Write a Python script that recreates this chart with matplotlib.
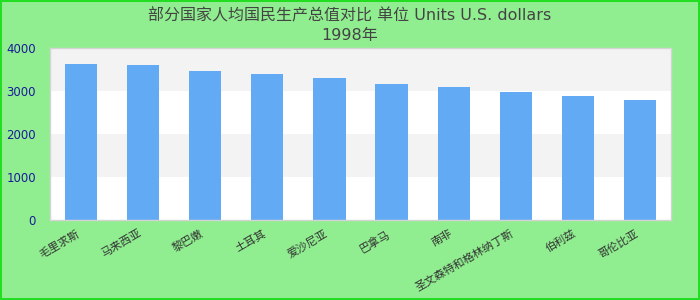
import matplotlib
matplotlib.use('Agg')
import matplotlib.pyplot as plt

plt.rcParams['font.family'] = ['DejaVu Sans', 'Noto Sans CJK SC']

# data
countries = ['毛里求斯', '马来西亚', '黎巴嫩', '土耳其', '爱沙尼亚',
             '巴拿马', '南非', '圣文森特和格林纳丁斯', '伯利兹', '哥伦比亚']
values = [3630, 3600, 3470, 3400, 3300, 3160, 3090, 2980, 2880, 2790]
yticks = [0, 1000, 2000, 3000, 4000]
title = '部分国家人均国民生产总值对比 单位 Units U.S. dollars\n1998年'

fig = plt.figure(figsize=(7, 3), dpi=100)
fig.patch.set_facecolor('#90ee90')
fig.patch.set_edgecolor('#22dd22')
fig.patch.set_linewidth(1.5)

ax = fig.add_axes([50 / 700, 80 / 300, 621 / 700, 172 / 300])
ax.set_facecolor('white')

# alternating background bands
for lo, hi in zip(yticks[:-1], yticks[1:]):
    if lo // 1000 % 2 == 1:
        ax.axhspan(lo, hi, color='#f3f3f3', zorder=0, lw=0)

x = range(len(countries))
ax.bar(x, values, width=0.52, color='#63aaf5', zorder=2)

ax.set_xlim(-0.5, len(countries) - 0.5)
ax.set_ylim(0, 4000)
ax.set_yticks(yticks)
ax.set_xticks(list(x))
ax.set_xticklabels(countries, rotation=30, ha='right', fontsize=8, color='#333333')
ax.tick_params(axis='y', labelsize=8.5, labelcolor='#1a1a99', length=0, pad=10)
ax.tick_params(axis='x', length=0, pad=6)

for s in ax.spines.values():
    s.set_color('#d4d4d4')
    s.set_linewidth(1)

fig.suptitle(title, fontsize=11.5, color='#444444', y=0.975, linespacing=1.45)

fig.savefig('out.png', dpi=100, facecolor=fig.get_facecolor(), edgecolor=fig.get_edgecolor())
